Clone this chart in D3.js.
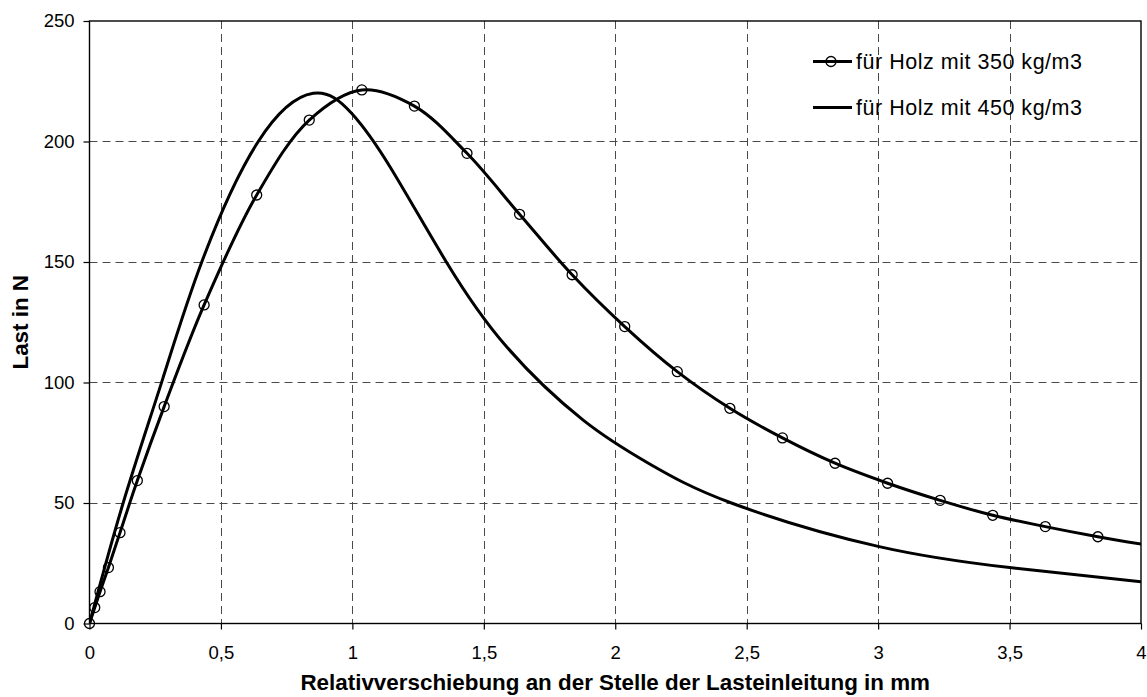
<!DOCTYPE html>
<html>
<head>
<meta charset="utf-8">
<script src="https://cdn.jsdelivr.net/npm/d3@7"></script>
<style>
  html, body { margin: 0; padding: 0; background: #fff; }
  svg { display: block; font-family: "Liberation Sans", Arial, sans-serif; }
</style>
</head>
<body>
<svg id="chart" width="1147" height="697"></svg>
<script>
// Displacement (mm) and load (N) for wood of 350 kg/m3 (measured points, with markers)
const disp350 = [0, 0.02, 0.04, 0.072, 0.116, 0.182, 0.284, 0.436, 0.636, 0.836, 1.036, 1.236, 1.436,
                 1.636, 1.836, 2.036, 2.236, 2.436, 2.636, 2.836, 3.036, 3.236, 3.436, 3.636, 3.836, 4.036];
const load350 = [0, 6.6, 13.2, 23.2, 37.7, 59.3, 90, 132.2, 177.8, 208.9, 221.4, 214.7, 195.1,
                 169.8, 144.7, 123.2, 104.5, 89.3, 77, 66.5, 58.2, 51.1, 44.9, 40.2, 36.0, 32.3];

// Displacement (mm) and load (N) for wood of 450 kg/m3
const disp450 = [0, 0.128, 0.277, 0.427, 0.642, 0.851, 0.997, 1.143, 1.358, 1.586, 1.878,
                 2.131, 2.442, 3.0, 3.5, 4.0];
const load450 = [0, 50, 101, 150, 200, 220, 211.7, 189.5, 149.9, 114.9, 84.4,
                 66.2, 50, 32, 23.2, 17.3];

const seriesNames = ["für Holz mit 350 kg/m3", "für Holz mit 450 kg/m3"];

const xTickValues = [0, 0.5, 1, 1.5, 2, 2.5, 3, 3.5, 4];
const xTickLabels = ["0", "0,5", "1", "1,5", "2", "2,5", "3", "3,5", "4"];
const yTickValues = [0, 50, 100, 150, 200, 250];
const yTickLabels = ["0", "50", "100", "150", "200", "250"];

const xTitle = "Relativverschiebung an der Stelle der Lasteinleitung in mm";
const yTitle = "Last in N";

const svg = d3.select("#chart");
const plot = { left: 89.5, right: 1141, top: 21, bottom: 623.5 };

const x = d3.scaleLinear().domain([0, 4]).range([plot.left, plot.right]);
const y = d3.scaleLinear().domain([0, 250]).range([plot.bottom, plot.top]);

svg.append("defs").append("clipPath").attr("id", "plotClip")
  .append("rect")
  .attr("x", plot.left).attr("y", plot.top - 10)
  .attr("width", plot.right - plot.left).attr("height", plot.bottom - plot.top + 20);

// dashed grid
const grid = svg.append("g").attr("stroke", "#4a4a4a").attr("stroke-width", 1)
  .attr("stroke-dasharray", "8,5").attr("fill", "none");
grid.selectAll("line.v").data(xTickValues.slice(1, -1)).join("line")
  .attr("x1", d => Math.round(x(d)) + 0.5).attr("x2", d => Math.round(x(d)) + 0.5)
  .attr("y1", plot.top).attr("y2", plot.bottom);
grid.selectAll("line.h").data(yTickValues.slice(1, -1)).join("line")
  .attr("y1", d => Math.round(y(d)) + 0.5).attr("y2", d => Math.round(y(d)) + 0.5)
  .attr("x1", plot.left).attr("x2", plot.right);

// plot frame
svg.append("rect")
  .attr("x", plot.left).attr("y", plot.top)
  .attr("width", plot.right - plot.left).attr("height", plot.bottom - plot.top)
  .attr("fill", "none").attr("stroke", "#000").attr("stroke-width", 1.4);

// axes
const xAxis = d3.axisBottom(x).tickValues(xTickValues)
  .tickFormat((d, i) => xTickLabels[i]).tickSizeInner(6).tickSizeOuter(0).tickPadding(16);
const gx = svg.append("g").attr("transform", `translate(0,${plot.bottom})`).call(xAxis);
gx.select(".domain").remove();
gx.selectAll("line").attr("stroke", "#000").attr("stroke-width", 1.2);
gx.selectAll("text").attr("font-size", "18.5px").attr("fill", "#000")
  .attr("font-family", "Liberation Sans, Arial, sans-serif");

const yAxis = d3.axisLeft(y).tickValues(yTickValues)
  .tickFormat((d, i) => yTickLabels[i]).tickSizeInner(6).tickSizeOuter(0).tickPadding(9);
const gy = svg.append("g").attr("transform", `translate(${plot.left},0)`).call(yAxis);
gy.select(".domain").remove();
gy.selectAll("line").attr("stroke", "#000").attr("stroke-width", 1.2);
gy.selectAll("text").attr("font-size", "18.5px").attr("fill", "#000")
  .attr("font-family", "Liberation Sans, Arial, sans-serif");

// axis titles
svg.append("text")
  .attr("x", (plot.left + plot.right) / 2).attr("y", 690)
  .attr("text-anchor", "middle").attr("font-size", "22.4px").attr("font-weight", "bold")
  .text(xTitle);
svg.append("text")
  .attr("transform", `translate(28,${(plot.top + plot.bottom) / 2}) rotate(-90)`)
  .attr("text-anchor", "middle").attr("font-size", "22.4px").attr("font-weight", "bold")
  .text(yTitle);

// curves
const line350 = d3.line().x(d => x(d[0])).y(d => y(d[1])).curve(d3.curveCatmullRom.alpha(0.5));
const line450 = d3.line().x(d => x(d[0])).y(d => y(d[1])).curve(d3.curveNatural);
const pts350 = disp350.map((d, i) => [d, load350[i]]);
const pts450 = disp450.map((d, i) => [d, load450[i]]);

const curves = svg.append("g").attr("clip-path", "url(#plotClip)");
curves.append("path").datum(pts450).attr("d", line450)
  .attr("fill", "none").attr("stroke", "#000").attr("stroke-width", 3)
  .attr("stroke-linejoin", "round");
curves.append("path").datum(pts350).attr("d", line350)
  .attr("fill", "none").attr("stroke", "#000").attr("stroke-width", 3)
  .attr("stroke-linejoin", "round");

// markers for the 350 kg/m3 series (only those inside the axis range)
svg.append("g").selectAll("circle").data(pts350.filter(d => d[0] <= 4)).join("circle")
  .attr("cx", d => x(d[0])).attr("cy", d => y(d[1])).attr("r", 5)
  .attr("fill", "none").attr("stroke", "#000").attr("stroke-width", 1.3);

// legend
const legend = svg.append("g");
const legendRows = [61.5, 107.5];
seriesNames.forEach((name, i) => {
  const gy0 = legendRows[i];
  legend.append("line").attr("x1", 813).attr("x2", 852).attr("y1", gy0).attr("y2", gy0)
    .attr("stroke", "#000").attr("stroke-width", 3);
  if (i === 0) {
    legend.append("circle").attr("cx", 831).attr("cy", gy0).attr("r", 5)
      .attr("fill", "none").attr("stroke", "#000").attr("stroke-width", 1.3);
  }
  legend.append("text").attr("x", 856).attr("y", gy0 + 7)
    .attr("font-size", "21.5px").attr("textLength", 226).attr("lengthAdjust", "spacing")
    .text(name);
});
</script>
</body>
</html>
